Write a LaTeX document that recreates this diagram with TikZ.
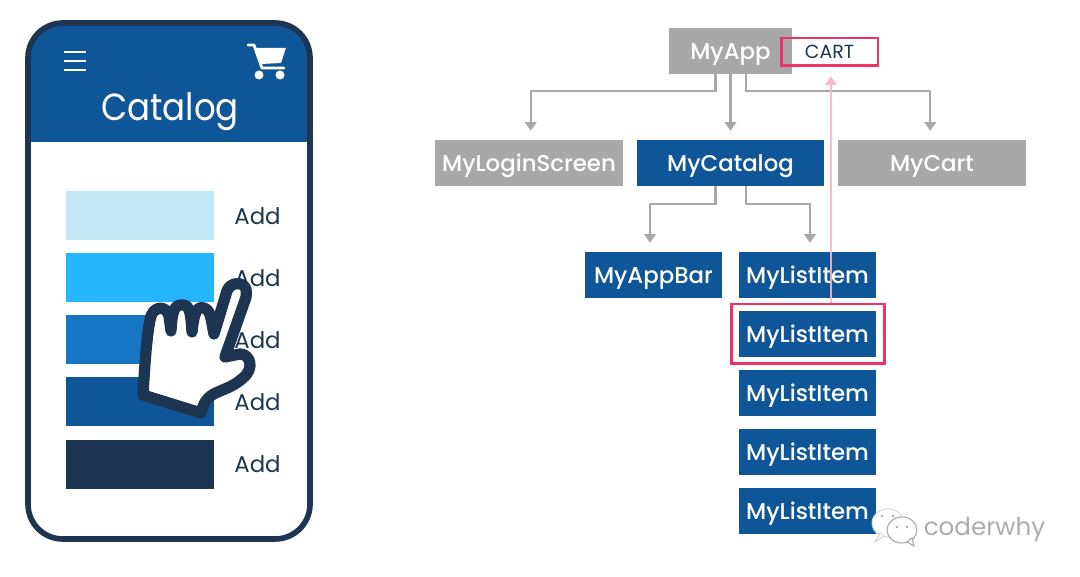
\documentclass[tikz,border=0pt]{standalone}
\usepackage{fontspec}
\setmainfont{Poppins}
\newfontfamily\boxfont{Poppins Medium}
\newfontfamily\titlefont[FakeStretch=0.9]{Poppins}
\usetikzlibrary{arrows.meta}

\definecolor{appblue}{HTML}{0F5698}
\definecolor{appdark}{HTML}{1D3550}
\definecolor{appgray}{HTML}{A8A8A8}
\definecolor{appred}{HTML}{EE3466}
\definecolor{apppink}{HTML}{F8B4C8}

\tikzset{
  graybox/.style={fill=appgray, text=white, inner sep=0pt, text height=11pt, text depth=1pt, font=\boxfont\fontsize{13}{15}\selectfont},
  bluebox/.style={fill=appblue, text=white, inner sep=0pt, text height=11pt, text depth=1pt, font=\boxfont\fontsize{13}{15}\selectfont},
  widebox/.style={minimum width=3.76cm, minimum height=0.92cm},
  itembox/.style={minimum width=2.74cm, minimum height=0.92cm},
  redbox/.style={draw=appred, line width=1.7pt, inner sep=0pt},
  flowline/.style={draw, color=appgray, line width=1.3pt, -{Triangle[length=5pt,width=6.5pt]}, shorten >=5pt},
  pinkline/.style={draw, color=apppink, line width=1.5pt, opacity=.9, -{Triangle[length=5pt,width=6.5pt]}, shorten >=5pt},
  colorbar/.style={minimum width=2.96cm, minimum height=0.98cm, inner sep=0pt},
  addlabel/.style={text=appdark, inner sep=0pt, font=\fontsize{13}{15}\selectfont},
  handline/.style={draw=appdark, line width=6.4pt, line join=round}
}

\begin{document}
\begin{tikzpicture}[x=0.02cm, y=-0.02cm]
      \useasboundingbox (0,0) rectangle (1080,577);

      % phone
      \path [fill=appblue, rounded corners=19.8pt] (28,142) -- (28,23) -- (310,23) -- (310,142);
      \draw [appdark, line width=3.2pt, rounded corners=19.8pt] (28,23) rectangle (310,539);
      \draw [white, line width=1.6pt] (64,52) -- (86,52);
      \draw [white, line width=1.6pt] (64,61) -- (86,61);
      \draw [white, line width=1.6pt] (64,70) -- (86,70);

      % cart icon
      \draw [white, line width=1.6pt, line cap=round, line join=round] (248,45) -- (254,45) -- (262,68) -- (284,68);
      \path [fill=white] (256,48) -- (286,48) -- (281,63) -- (261,64) -- cycle;
      \path [fill=white] (259,75) circle (4.5);
      \path [fill=white] (280,75) circle (4.5);

      \node[text=white, inner sep=0pt, text height=16pt, text depth=1.2pt, font=\titlefont\fontsize{21.5}{24}\selectfont] (Title) at (170,108) {Catalog};

      \node[colorbar, fill={rgb,255:red,193;green,231;blue,244}] (BarA) at (140,215.5) {};
      \node[colorbar, fill={rgb,255:red,38;green,182;blue,254}] (BarB) at (140,277.5) {};
      \node[colorbar, fill={rgb,255:red,23;green,118;blue,196}] (BarC) at (140,339.5) {};
      \node[colorbar, fill=appblue] (BarD) at (140,401.5) {};
      \node[colorbar, fill=appdark] (BarE) at (140,464.5) {};

      \node[addlabel] (AddA) at (257.5,216) {Add};
      \node[addlabel] (AddB) at (257.5,278) {Add};
      \node[addlabel] (AddC) at (257.5,340) {Add};
      \node[addlabel] (AddD) at (257.5,402) {Add};
      \node[addlabel] (AddE) at (257.5,464) {Add};

      % hand
      \path [handline, fill=white] (143,395) .. controls (145,360) and (147,335) .. (150,320)
        .. controls (152,306) and (166,304) .. (169,316) -- (171,331)
        .. controls (172,312) and (174,304) .. (183,305) .. controls (190,305) and (191,315) .. (192,332)
        .. controls (194,312) and (197,306) .. (204,308) .. controls (211,310) and (211,320) .. (214,334)
        -- (227,291) .. controls (230,282) and (243,281) .. (246,289) .. controls (247,295) and (246,298) .. (244,303)
        -- (225,357) -- (240,354) .. controls (250,354) and (255,368) .. (243,378)
        .. controls (232,388) and (220,390) .. (212,395) .. controls (205,400) and (203,405) .. (201,413) -- cycle;

      % tree
      \node[graybox, minimum width=2.48cm, minimum height=0.92cm] (MyApp) at (730.5,51) {MyApp};
      \node[graybox, widebox] (MyLoginScreen) at (529,163) {MyLoginScreen};
      \node[bluebox, widebox] (MyCatalog) at (730.5,163) {MyCatalog};
      \node[graybox, widebox] (MyCart) at (932,163) {MyCart};
      \node[bluebox, itembox] (MyAppBar) at (653.5,275) {MyAppBar};
      \node[bluebox, itembox] (ItemA) at (807.5,275) {MyListItem};
      \node[bluebox, itembox] (ItemB) at (807.5,334) {MyListItem};
      \node[bluebox, itembox] (ItemC) at (807.5,393) {MyListItem};
      \node[bluebox, itembox] (ItemD) at (807.5,452) {MyListItem};
      \node[bluebox, itembox] (ItemE) at (807.5,511) {MyListItem};

      \node[redbox, minimum width=3.08cm, minimum height=1.2cm] (Picked) at (808,334) {};
      \node[redbox, minimum width=1.94cm, minimum height=0.56cm, text=appdark, font=\fontsize{10.8}{12}\selectfont] (CartLabel) at (829.5,52) {CART};

      \path [flowline] ([xshift=-8.5pt]MyApp.south) -- ++(0,17) -| ([xshift=1pt]MyLoginScreen.north);
      \path [flowline] (MyApp) -- (MyCatalog);
      \path [flowline] ([xshift=9pt]MyApp.south) -- ++(0,17) -| ([xshift=-1pt]MyCart.north);
      \path [flowline] ([xshift=-8.5pt]MyCatalog.south) -- ++(0,18) -| ([xshift=-2pt]MyAppBar.north);
      \path [flowline] ([xshift=9pt]MyCatalog.south) -- ++(0,18) -| ([xshift=1.4pt]ItemA.north);

      \path [pinkline] ([xshift=13pt]Picked.north) -- ([xshift=13pt]Picked.north |- CartLabel.south);

      % watermark
      \path [fill=white, draw=gray!35, line width=.5pt] (888,523) ellipse (16 and 14);
      \path [fill=white, draw=gray!35, line width=.5pt] (875,542) -- (880,533) -- (884,536) -- cycle;
      \path [fill=white, draw=gray!70, line width=.6pt] (902,530) ellipse (15 and 13);
      \path [fill=white, draw=gray!70, line width=.6pt] (914,546) -- (907,542) -- (912,538) -- cycle;
      \path [fill=gray!60] (882,516) circle (1.5);
      \path [fill=gray!60] (893,516) circle (1.5);
      \path [fill=gray!70] (897,527) circle (1.3);
      \path [fill=gray!70] (907,527) circle (1.3);
      \node[text=gray!65, inner sep=0pt, text height=9pt, text depth=1pt, font=\fontsize{14}{16}\selectfont] (Mark) at (984.5,528) {coderwhy};
    \end{tikzpicture}
\end{document}
